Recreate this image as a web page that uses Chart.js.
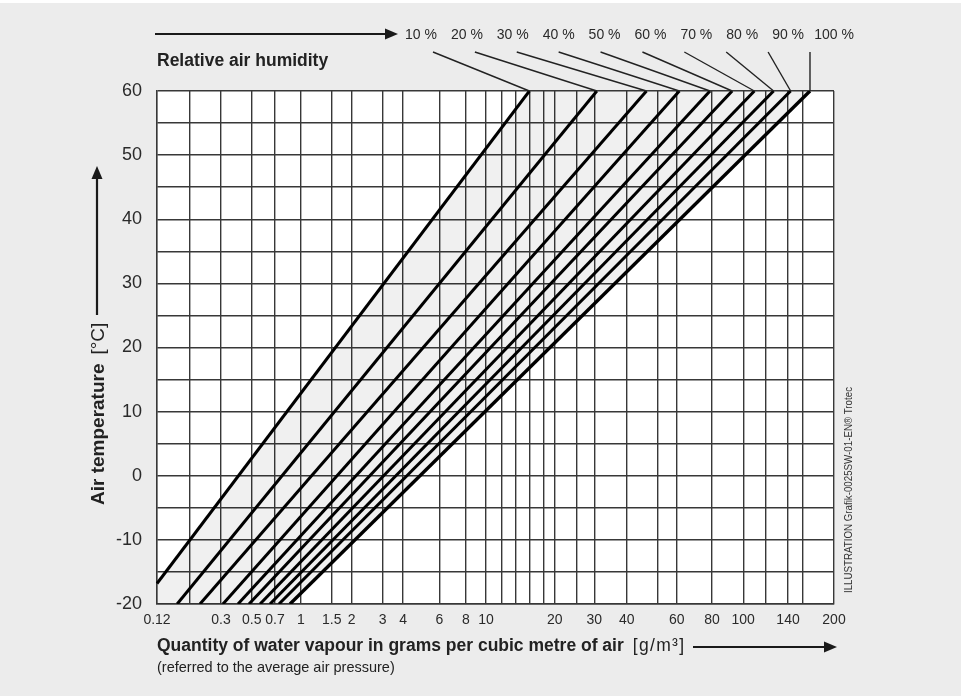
<!DOCTYPE html>
<html>
<head>
<meta charset="utf-8">
<script src="https://cdn.jsdelivr.net/npm/chart.js@4.4.1/dist/chart.umd.min.js"></script>
<style>
html,body{margin:0;padding:0;background:#ececec;}
canvas{display:block;}
</style>
</head>
<body>
<canvas id="c" width="961" height="696"></canvas>
<script>
// ---------------- data ----------------
const humidityLabels = ['10 %','20 %','30 %','40 %','50 %','60 %','70 %','80 %','90 %','100 %'];
// water vapour (g/m³) where each humidity line meets 60 °C
const vapourAt60 = [15.9, 30.7, 46.2, 61.3, 78.7, 92.4, 109.7, 127, 143.4, 168.7];
// lower end of each humidity line (g/m³) and its temperature (°C)
const lowerEndVapour = [0.12, 0.164, 0.228, 0.31, 0.398, 0.478, 0.564, 0.651, 0.739, 0.86];
const lowerEndTemp = [-16.8, -20, -20, -20, -20, -20, -20, -20, -20, -20];
// x grid values (g/m³) and their tick labels
const xGridValues = [0.12,0.2,0.3,0.5,0.7,1,1.5,2,3,4,6,8,10,12,14,16,18,20,25,30,40,50,60,80,100,120,140,160,200];
const xTickLabels = ['0.12','','0.3','0.5','0.7','1','1.5','2','3','4','6','8','10','','','','','20','','30','40','','60','80','100','','140','','200'];
// temperature axis
const yMin = -20, yMax = 60, yStep = 5, yLabelEvery = 10;

// ---------------- scale geometry (the chart's own non-uniform x scale) ----------------
// fraction of the axis length at which each x grid value sits
const X_GRID_FRACTIONS = [0,0.0487,0.0945,0.1399,0.1743,0.2127,0.2581,0.2876,0.3334,0.3634,0.4170,0.4564,0.4860,0.5086,0.5303,0.5510,0.5716,0.5874,0.6204,0.6459,0.6938,0.7390,0.7677,0.8198,0.8659,0.8984,0.9321,0.9535,1];

function vapourToFraction(v) {
  const xs = xGridValues, fs = X_GRID_FRACTIONS, n = xs.length;
  let i = 0;
  if (v <= xs[0]) i = 0;
  else if (v >= xs[n-1]) i = n - 2;
  else { while (i < n - 2 && v > xs[i+1]) i++; }
  const t = (Math.log(v) - Math.log(xs[i])) / (Math.log(xs[i+1]) - Math.log(xs[i]));
  return fs[i] + t * (fs[i+1] - fs[i]);
}
function fractionToVapour(f) {
  const xs = xGridValues, fs = X_GRID_FRACTIONS, n = xs.length;
  let i = 0;
  if (f <= fs[0]) i = 0;
  else if (f >= fs[n-1]) i = n - 2;
  else { while (i < n - 2 && f > fs[i+1]) i++; }
  const t = (f - fs[i]) / (fs[i+1] - fs[i]);
  return Math.exp(Math.log(xs[i]) + t * (Math.log(xs[i+1]) - Math.log(xs[i])));
}

class VapourScale extends Chart.Scale {
  determineDataLimits() {
    this.min = xGridValues[0];
    this.max = xGridValues[xGridValues.length - 1];
  }
  buildTicks() { return xGridValues.map(v => ({ value: v })); }
  getLabelForValue(v) { return String(v); }
  getPixelForValue(v) { return this.getPixelForDecimal(vapourToFraction(v)); }
  getValueForPixel(p) { return fractionToVapour(this.getDecimalForPixel(p)); }
}
VapourScale.id = 'vapour';
VapourScale.defaults = {};
Chart.register(VapourScale);

// ---------------- datasets ----------------
const FONT = "'Liberation Sans', Arial, Helvetica, sans-serif";
const lineSets = humidityLabels.map((lab, i) => ({
  label: lab,
  data: [{ x: lowerEndVapour[i], y: lowerEndTemp[i] }, { x: vapourAt60[i], y: yMax }],
  showLine: true,
  borderColor: '#000',
  borderWidth: i === humidityLabels.length - 1 ? 3.4 : 3,
  pointRadius: 0,
  fill: false,
  order: 0
}));
const last = humidityLabels.length - 1;
const bandSet = {
  label: 'band',
  data: [
    { x: xGridValues[0], y: yMin },
    { x: lowerEndVapour[0], y: lowerEndTemp[0] },
    { x: vapourAt60[0], y: yMax },
    { x: vapourAt60[last], y: yMax },
    { x: lowerEndVapour[last], y: lowerEndTemp[last] }
  ],
  showLine: true,
  borderColor: 'rgba(0,0,0,0)',
  borderWidth: 0,
  backgroundColor: 'rgba(0,0,0,0.06)',
  fill: 'shape',
  pointRadius: 0,
  order: 5
};

function arrow(ctx, x1, y1, x2, y2) {
  const ang = Math.atan2(y2 - y1, x2 - x1);
  const hl = 13, hw = 5.5;
  ctx.save();
  ctx.strokeStyle = '#1a1a1a'; ctx.fillStyle = '#1a1a1a'; ctx.lineWidth = 2.2;
  ctx.beginPath();
  ctx.moveTo(x1, y1);
  ctx.lineTo(x2 - Math.cos(ang) * hl, y2 - Math.sin(ang) * hl);
  ctx.stroke();
  ctx.beginPath();
  ctx.moveTo(x2, y2);
  ctx.lineTo(x2 - Math.cos(ang) * hl - Math.sin(ang) * hw, y2 - Math.sin(ang) * hl + Math.cos(ang) * hw);
  ctx.lineTo(x2 - Math.cos(ang) * hl + Math.sin(ang) * hw, y2 - Math.sin(ang) * hl - Math.cos(ang) * hw);
  ctx.closePath();
  ctx.fill();
  ctx.restore();
}

const backgroundPlugin = {
  id: 'bg',
  beforeDraw(chart) {
    const { ctx, chartArea: a } = chart;
    ctx.save();
    ctx.fillStyle = '#ffffff';
    ctx.fillRect(0, 0, chart.width, chart.height);
    ctx.fillStyle = '#ececec';
    ctx.fillRect(0, 3, chart.width, chart.height - 3);
    ctx.fillStyle = '#ffffff';
    ctx.fillRect(a.left, a.top, a.right - a.left, a.bottom - a.top);
    ctx.restore();
  }
};

const annotationPlugin = {
  id: 'annot',
  afterDraw(chart) {
    const { ctx, chartArea: a } = chart;
    const xs = chart.scales.x;
    ctx.save();
    // top: arrow, humidity labels and leaders
    const rowY = 34;
    arrow(ctx, a.left - 2, rowY, a.left + 241, rowY);
    ctx.fillStyle = '#2a2a2a';
    ctx.font = '14px ' + FONT;
    ctx.textAlign = 'center';
    ctx.textBaseline = 'middle';
    const labStep = 413 / (humidityLabels.length - 1);
    const topPx = vapourAt60.map(v => xs.getPixelForValue(v));
    const leadStep = 377 / (humidityLabels.length - 1);
    humidityLabels.forEach((lab, i) => {
      const cx = a.right - 413 + i * labStep;
      ctx.fillText(lab, cx, rowY + 1);
      const sx = topPx[last] - (last - i) * leadStep;
      ctx.beginPath();
      ctx.strokeStyle = '#222';
      ctx.lineWidth = 1.4;
      ctx.moveTo(sx, 52);
      ctx.lineTo(topPx[i], a.top);
      ctx.stroke();
    });
    ctx.textAlign = 'left';
    ctx.textBaseline = 'alphabetic';
    ctx.fillStyle = '#222';
    ctx.font = 'bold 17.5px ' + FONT;
    ctx.fillText('Relative air humidity', a.left, 66);

    // y axis title
    ctx.save();
    ctx.translate(104, 505);
    ctx.rotate(-Math.PI / 2);
    ctx.font = 'bold 19px ' + FONT;
    ctx.fillText('Air temperature', 0, 0);
    let w = ctx.measureText('Air temperature').width;
    ctx.font = '19px ' + FONT;
    ctx.fillText('[°C]', w + 9, 0);
    ctx.restore();
    arrow(ctx, 97, 315, 97, 166);

    // x axis title
    ctx.font = 'bold 17.5px ' + FONT;
    ctx.fillText('Quantity of water vapour in grams per cubic metre of air', a.left, 651);
    w = ctx.measureText('Quantity of water vapour in grams per cubic metre of air').width;
    ctx.font = '17.5px ' + FONT;
    ctx.letterSpacing = '1.3px';
    ctx.fillText('[g/m³]', a.left + w + 9, 651);
    ctx.letterSpacing = '0px';
    arrow(ctx, 693, 647, 837, 647);
    ctx.font = '14.5px ' + FONT;
    ctx.fillText('(referred to the average air pressure)', a.left, 672);

    // credit
    ctx.save();
    ctx.translate(851.5, 593);
    ctx.rotate(-Math.PI / 2);
    ctx.font = '10.5px ' + FONT;
    ctx.fillStyle = '#333';
    const credit = 'ILLUSTRATION Grafik-0025SW-01-EN® Trotec';
    const cw = ctx.measureText(credit).width;
    ctx.scale(206 / cw, 1);
    ctx.fillText(credit, 0, 0);
    ctx.restore();
    ctx.restore();
  }
};

const gridColor = '#383838';
new Chart(document.getElementById('c'), {
  type: 'scatter',
  data: { datasets: [...lineSets, bandSet] },
  options: {
    responsive: false,
    animation: false,
    events: [],
    layout: { padding: { top: 91, right: 127, bottom: 0, left: 0 } },
    plugins: { legend: { display: false }, tooltip: { enabled: false } },
    scales: {
      x: {
        type: 'vapour',
        position: 'bottom',
        grid: { color: gridColor, lineWidth: 1.4, drawTicks: false },
        border: { display: true, color: gridColor, width: 1.4 },
        ticks: {
          autoSkip: false, maxRotation: 0, minRotation: 0, padding: 8,
          color: '#2a2a2a', font: { family: FONT, size: 14 },
          callback: (v, i) => xTickLabels[i]
        },
        afterFit: s => { s.height = 92; }
      },
      y: {
        type: 'linear',
        min: yMin, max: yMax,
        grid: { color: gridColor, lineWidth: 1.4, drawTicks: false },
        border: { display: true, color: gridColor, width: 1.4 },
        ticks: {
          stepSize: yStep, autoSkip: false, padding: 15,
          color: '#2a2a2a', font: { family: FONT, size: 18 },
          callback: v => (v % yLabelEvery === 0 ? String(v) : '')
        },
        afterFit: s => { s.width = 157; }
      }
    }
  },
  plugins: [backgroundPlugin, annotationPlugin]
});
</script>
</body>
</html>
